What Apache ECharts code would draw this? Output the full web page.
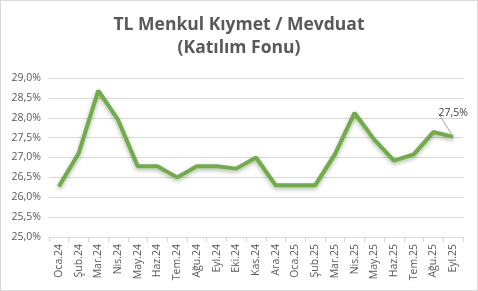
<!DOCTYPE html>
<html><head><meta charset="utf-8">
<script src="https://cdn.jsdelivr.net/npm/echarts@6/dist/echarts.min.js"></script>
<style>html,body{margin:0;padding:0;background:#fff}#c{width:476px;height:289px;border:1px solid #d9d9d9}</style>
</head><body><div id="c"></div>
<script>
const categories = ['Oca.24','Şub.24','Mar.24','Nis.24','May.24','Haz.24','Tem.24','Ağu.24','Eyl.24','Eki.24','Kas.24','Ara.24','Oca.25','Şub.25','Mar.25','Nis.25','May.25','Haz.25','Tem.25','Ağu.25','Eyl.25'];
const values = [26.27,27.1,28.68,27.95,26.78,26.78,26.5,26.78,26.78,26.72,27.0,26.3,26.3,26.3,27.08,28.12,27.45,26.92,27.08,27.64,27.52];
const yTicks = {min:25, max:29, interval:0.5};
const title = 'TL Menkul Kıymet / Mevduat\n(Katılım Fonu)';
const chart = echarts.init(document.getElementById('c'));
const fmt = v => v.toFixed(1).replace('.', ',') + '%';
const last = values.length - 1;
chart.setOption({
  animation:false,
  title:{text:title,left:'center',top:8,textStyle:{fontFamily:'Open Sans',fontSize:17.5,fontWeight:'bold',color:'#595959',lineHeight:23}},
  grid:{left:48,right:14,top:77,bottom:53},
  xAxis:{type:'category',data:categories,boundaryGap:true,
    axisLine:{lineStyle:{color:'#d9d9d9'}},
    axisTick:{show:true,length:5,lineStyle:{color:'#d9d9d9'}},
    axisLabel:{rotate:90,fontFamily:'Open Sans',fontSize:10.5,color:'#595959',margin:7,interval:0}},
  yAxis:{type:'value',min:yTicks.min,max:yTicks.max,interval:yTicks.interval,
    axisLine:{show:false},axisTick:{show:false},
    splitLine:{lineStyle:{color:'#d9d9d9'}},
    axisLabel:{formatter:fmt,fontFamily:'Open Sans',fontSize:10.5,color:'#595959',margin:8}},
  series:[{type:'line',
    data:values.map((v,i)=>({value:v,label:{show:i===last}})),
    symbol:'circle',symbolSize:0,showAllSymbol:true,
    itemStyle:{color:'#70AD47'},
    lineStyle:{color:'#70AD47',width:4,shadowColor:'rgba(0,0,0,0.3)',shadowBlur:4,shadowOffsetY:2},
    label:{position:'top',distance:2,formatter:p=>fmt(p.value),fontFamily:'Open Sans',fontSize:10.5,color:'#404040'},
    labelLayout:{dy:-16},
    labelLine:{show:true,lineStyle:{color:'#a6a6a6',width:1}}
  }]
});
</script></body></html>
